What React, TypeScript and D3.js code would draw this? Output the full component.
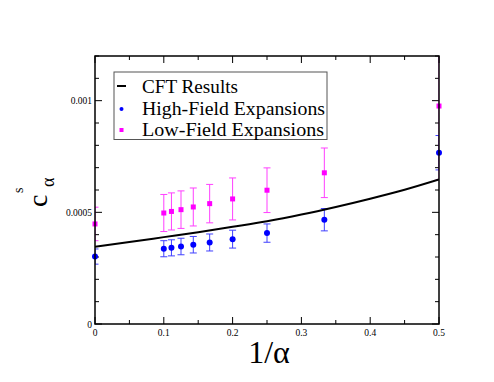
import React from "react";
import * as d3 from "d3";

const xs = [0, 0.1, 1 / 9, 0.125, 1 / 7, 1 / 6, 0.2, 0.25, 1 / 3, 0.5];
const highField = [0.000302, 0.000337, 0.000341, 0.000347, 0.000355, 0.000365, 0.00038, 0.000407, 0.000467, 0.000767];
const highErr = [0.000034, 0.000036, 0.000036, 0.000037, 0.000037, 0.000038, 0.00004, 0.000041, 0.00005, 0.000077];
const lowField = [0.000448, 0.000497, 0.000504, 0.000512, 0.000524, 0.000539, 0.00056, 0.000599, 0.000677, 0.000976];
const lowErr = [0.000075, 0.000083, 0.000083, 0.000084, 0.000085, 0.000086, 0.000094, 0.0001, 0.000111, 0.00033];
const cftX = [0, 0.05, 0.1, 0.15, 0.2, 0.25, 0.3, 0.35, 0.4, 0.45, 0.5];
const cftY = [0.000346, 0.000367, 0.000389, 0.000411, 0.000435, 0.00046, 0.00049, 0.000524, 0.000561, 0.000601, 0.000647];
const xTicks = [0, 0.1, 0.2, 0.3, 0.4, 0.5];
const xTickLabels = ["0", "0.1", "0.2", "0.3", "0.4", "0.5"];
const yTicks = [0, 0.0005, 0.001];
const yTickLabels = ["0", "0.0005", "0.001"];
const legendLabels = ["CFT Results", "High-Field Expansions", "Low-Field Expansions"];

const L = 95, R = 439, T = 56, B = 324;
const font = "'Liberation Serif', 'Times New Roman', serif";

export default function App() {
  const x = d3.scaleLinear().domain([0, 0.5]).range([L, R]);
  const y = d3.scaleLinear().domain([0, 0.0012]).range([B, T]);
  const line = d3
    .line<number>()
    .x((_, i) => x(cftX[i]))
    .y((d) => y(d))
    .curve(d3.curveMonotoneX);

  const xMinor = d3.range(0, 0.5001, 0.05);
  const yMinor = d3.range(0, 0.00120001, 0.0001);
  const isMajorX = (v: number) => Math.abs(v * 10 - Math.round(v * 10)) < 1e-6;
  const isMajorY = (v: number) => Math.abs(v / 0.0005 - Math.round(v / 0.0005)) < 1e-6;

  const errBars = (vals: number[], errs: number[], color: string) =>
    vals.map((v, i) => {
      const cx = x(xs[i]);
      const y1 = y(v + errs[i]);
      const y2 = y(v - errs[i]);
      return (
        <g key={i} stroke={color} strokeWidth={1} opacity={0.75}>
          <line x1={cx} x2={cx} y1={y1} y2={y2} />
          <line x1={cx - 3.5} x2={cx + 3.5} y1={y1} y2={y1} />
          <line x1={cx - 3.5} x2={cx + 3.5} y1={y2} y2={y2} />
        </g>
      );
    });

  return (
    <svg width={494} height={382} style={{ position: "absolute", left: 0, top: 0, background: "#fff" }}>
      <defs>
        <clipPath id="plotclip">
          <rect x={L} y={T} width={R - L} height={B - T} />
        </clipPath>
      </defs>
      <rect x={0} y={0} width={494} height={382} fill="#fff" />
      {/* ticks */}
      <g stroke="#000" strokeWidth={1}>
        {xMinor.map((v, i) => {
          const len = isMajorX(v) ? 7 : 4;
          return (
            <g key={"xt" + i}>
              <line x1={x(v)} x2={x(v)} y1={B} y2={B - len} />
              <line x1={x(v)} x2={x(v)} y1={T} y2={T + len} />
            </g>
          );
        })}
        {yMinor.map((v, i) => {
          const len = isMajorY(v) ? 7 : 4;
          return (
            <g key={"yt" + i}>
              <line x1={L} x2={L + len} y1={y(v)} y2={y(v)} />
              <line x1={R} x2={R - len} y1={y(v)} y2={y(v)} />
            </g>
          );
        })}
      </g>
      {/* tick labels */}
      <g fontFamily={font} fontSize={9.5} fill="#000">
        {xTicks.map((v, i) => (
          <text key={"xl" + i} x={x(v)} y={B + 12} textAnchor="middle">
            {xTickLabels[i]}
          </text>
        ))}
        {yTicks.map((v, i) => (
          <text key={"yl" + i} x={L - 3} y={y(v) + 3.5} textAnchor="end">
            {yTickLabels[i]}
          </text>
        ))}
      </g>
      {/* data */}
      <g clipPath="url(#plotclip)">
        {errBars(highField, highErr, "#0000ff")}
        {errBars(lowField, lowErr, "#ff00ff")}
        <path d={line(cftY) || ""} fill="none" stroke="#000" strokeWidth={2} />
      </g>
      {highField.map((v, i) => (
        <circle key={"h" + i} cx={x(xs[i])} cy={y(v)} r={3} fill="#0000ff" />
      ))}
      {lowField.map((v, i) => (
        <rect key={"l" + i} x={x(xs[i]) - 2.5} y={y(v) - 2.5} width={5} height={5} fill="#ff00ff" />
      ))}
      {/* frame */}
      <rect x={L} y={T} width={R - L} height={B - T} fill="none" stroke="#000" strokeWidth={1.5} />
      {/* legend */}
      <rect x={114} y={72} width={213} height={67.5} fill="#fff" stroke="#555" strokeWidth={1} />
      <line x1={117} x2={126} y1={86} y2={86} stroke="#000" strokeWidth={2} />
      <circle cx={121.5} cy={109} r={2} fill="#0000ff" />
      <rect x={119.5} y={128} width={4} height={4} fill="#ff00ff" />
      <g fontFamily={font} fontSize={18.5} fill="#000">
        <text x={142} y={93.3} textLength={96} lengthAdjust="spacingAndGlyphs">{legendLabels[0]}</text>
        <text x={142} y={115} textLength={183} lengthAdjust="spacingAndGlyphs">{legendLabels[1]}</text>
        <text x={142} y={135.5} textLength={182} lengthAdjust="spacingAndGlyphs">{legendLabels[2]}</text>
      </g>
      {/* axis titles */}
      <text x={269} y={363} textAnchor="middle" fontFamily={font} fontSize={32} fill="#000">
        1/α
      </text>
      <g transform="translate(46.5,207) rotate(-90)" fontFamily={font} fill="#000">
        <text x={0} y={0} fontSize={28}>c</text>
        <text x={14} y={-23.5} fontSize={14}>s</text>
        <text x={20} y={7.5} fontSize={18}>α</text>
      </g>
    </svg>
  );
}
